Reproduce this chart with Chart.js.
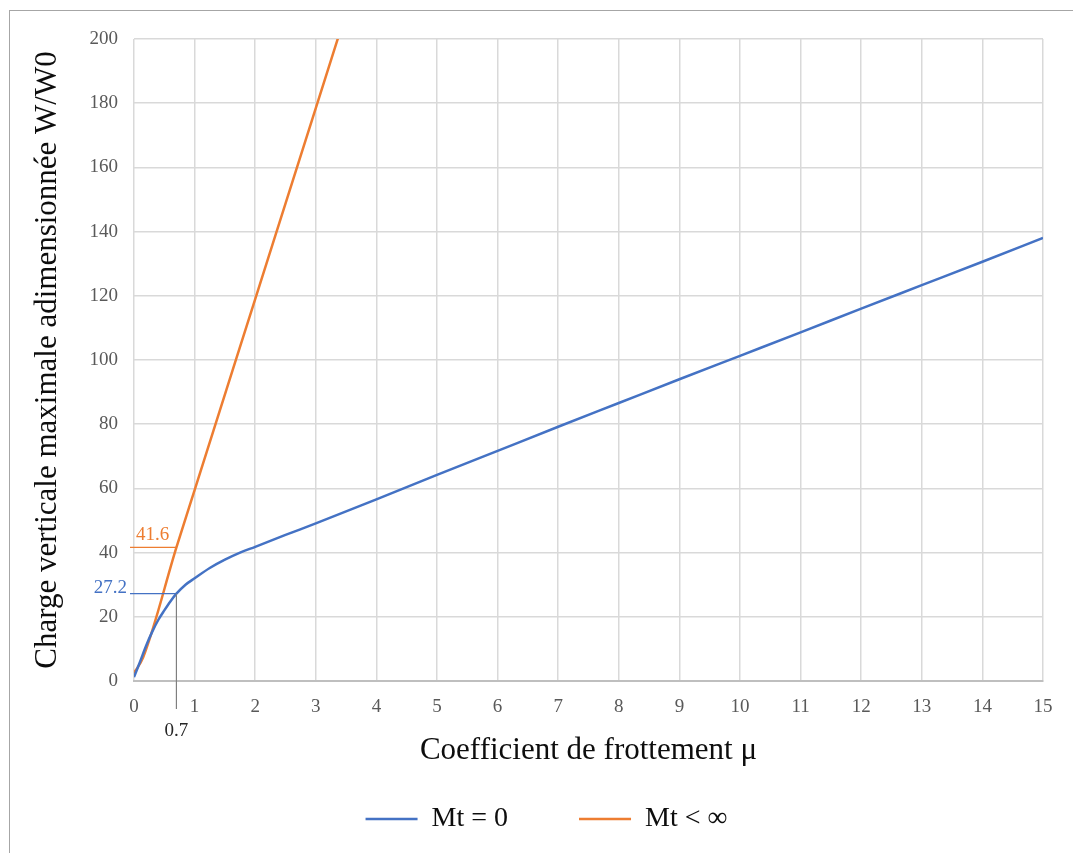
<!DOCTYPE html>
<html>
<head>
<meta charset="utf-8">
<script src="https://cdn.jsdelivr.net/npm/chart.js@4"></script>
<style>
  html, body { margin: 0; padding: 0; background: #fff; overflow: hidden; }
  #frame { position: absolute; left: 9px; top: 10px; width: 1200px; height: 1000px; border: 1px solid #a6a6a6; }
  #wrap { position: absolute; left: 0; top: 0; width: 1073px; height: 853px; }
</style>
</head>
<body>
<div id="frame"></div>
<div id="wrap"><canvas id="chart"></canvas></div>
<script>
// Mt = 0 curve
const muBlue = [0, 0.1, 0.2, 0.3, 0.4, 0.5, 0.6, 0.7, 0.85, 1, 1.25, 1.5, 1.75, 2, 2.5, 3, 4, 5, 6, 7, 8, 9, 10, 11, 12, 13, 14, 15];
const chargeBlue = [1.2, 6, 11, 15.3, 19, 22, 24.8, 27.2, 30, 32, 35.2, 37.8, 40, 41.8, 45.5, 49.1, 56.6, 64.2, 71.7, 79.2, 86.6, 94, 101.3, 108.6, 116, 123.3, 130.6, 138];
// Mt < infinity
const muOrange = [0, 0.15, 0.7, 1, 2, 3, 3.4];
const chargeOrange = [2.5, 7.3, 41.6, 59.5, 119, 178.5, 202.3];

const xTicks = [0, 1, 2, 3, 4, 5, 6, 7, 8, 9, 10, 11, 12, 13, 14, 15];
const yTicks = [0, 20, 40, 60, 80, 100, 120, 140, 160, 180, 200];

const muMark = 0.7;
const blueMark = 27.2;
const orangeMark = 41.6;

const blue = '#4472c4';
const orange = '#ed7d31';
const font = "'Liberation Serif', 'DejaVu Serif', serif";

const toPoints = (xs, ys) => xs.map((x, i) => ({ x: x, y: ys[i] }));

const markers = {
  id: 'markers',
  afterDatasetsDraw(chart) {
    const { ctx, chartArea, scales } = chart;
    const x0 = chartArea.left - 4;
    const xm = scales.x.getPixelForValue(muMark);
    const yb = scales.y.getPixelForValue(blueMark);
    const yo = scales.y.getPixelForValue(orangeMark);
    ctx.save();
    ctx.lineWidth = 1.2;
    ctx.strokeStyle = '#7f7f7f';
    ctx.beginPath();
    ctx.moveTo(xm, yb);
    ctx.lineTo(xm, chartArea.bottom + 28);
    ctx.stroke();
    ctx.strokeStyle = blue;
    ctx.beginPath();
    ctx.moveTo(x0, yb);
    ctx.lineTo(xm, yb);
    ctx.stroke();
    ctx.strokeStyle = orange;
    ctx.beginPath();
    ctx.moveTo(x0, yo);
    ctx.lineTo(xm, yo);
    ctx.stroke();
    ctx.font = '19px ' + font;
    ctx.textBaseline = 'alphabetic';
    ctx.fillStyle = orange;
    ctx.textAlign = 'left';
    ctx.fillText(String(orangeMark), x0 + 6, yo - 7);
    ctx.fillStyle = blue;
    ctx.textAlign = 'right';
    ctx.fillText(String(blueMark), x0 - 3, yb - 1);
    ctx.fillStyle = '#262626';
    ctx.textAlign = 'center';
    ctx.fillText(String(muMark), xm, chartArea.bottom + 55);
    ctx.restore();
  }
};

new Chart(document.getElementById('chart'), {
  type: 'line',
  data: {
    datasets: [{
      label: 'Mt = 0',
      data: toPoints(muBlue, chargeBlue),
      borderColor: blue,
      backgroundColor: blue,
      borderWidth: 2.5,
      pointRadius: 0,
      cubicInterpolationMode: 'monotone'
    }, {
      label: 'Mt < ∞',
      data: toPoints(muOrange, chargeOrange),
      borderColor: orange,
      backgroundColor: orange,
      borderWidth: 2.5,
      pointRadius: 0,
      cubicInterpolationMode: 'monotone'
    }]
  },
  options: {
    responsive: true,
    maintainAspectRatio: false,
    animation: false,
    layout: { padding: { top: 39, right: 30, bottom: 10, left: 50 } },
    plugins: {
      tooltip: { enabled: false },
      legend: {
        position: 'bottom',
        labels: {
          usePointStyle: true,
          pointStyle: 'line',
          pointStyleWidth: 52,
          boxHeight: 28,
          padding: 71,
          color: '#0d0d0d',
          font: { family: font, size: 28 }
        }
      }
    },
    scales: {
      x: {
        type: 'linear',
        min: 0,
        max: 15,
        afterBuildTicks: s => { s.ticks = xTicks.map(v => ({ value: v })); },
        grid: { color: '#d9d9d9', lineWidth: 1.5, drawTicks: false },
        border: { color: '#bfbfbf', width: 2 },
        ticks: { color: '#595959', padding: 15, font: { family: font, size: 19 } },
        title: { display: true, text: 'Coefficient de frottement μ', color: '#0d0d0d', font: { family: font, size: 31 }, padding: { top: 0, bottom: -35 } },
        afterFit: s => { s.height = 53; }
      },
      y: {
        min: 0,
        max: 200,
        afterBuildTicks: s => { s.ticks = yTicks.map(v => ({ value: v })); },
        grid: { color: '#d9d9d9', lineWidth: 1.5, drawTicks: false },
        border: { display: false },
        ticks: { color: '#595959', padding: 16, font: { family: font, size: 19 } },
        title: { display: true, text: 'Charge verticale maximale adimensionnée W/W0', color: '#0d0d0d', font: { family: font, size: 31 }, padding: { top: -21, bottom: 0 } },
        afterFit: s => { s.width = 84; }
      }
    }
  },
  plugins: [markers]
});
</script>
</body>
</html>
